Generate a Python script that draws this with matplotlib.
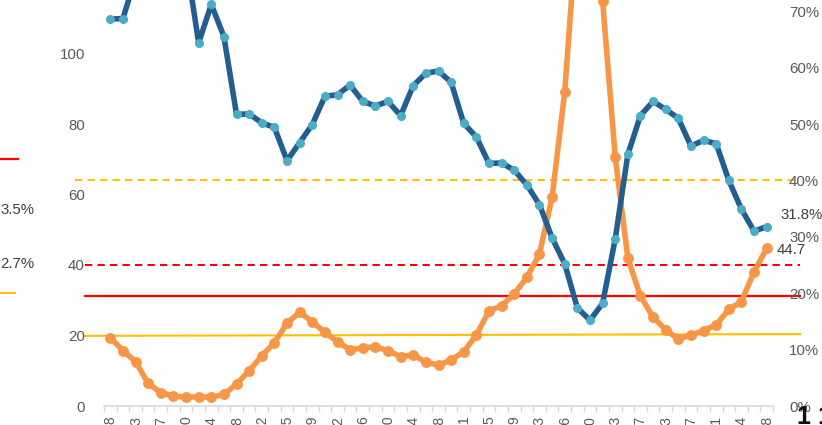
import numpy as np
import matplotlib
matplotlib.use("Agg")
import matplotlib.pyplot as plt
from matplotlib.lines import Line2D
from matplotlib.ticker import FuncFormatter

plt.rcParams['font.family'] = ['Liberation Sans', 'DejaVu Sans']

# ---------------- data ----------------
x_labels = ["10/18", "10/23", "10/27", "10/30", "11/4", "11/8", "11/12", "11/15",
            "11/19", "11/22", "11/26", "11/30", "12/4", "12/8", "12/11", "12/15",
            "12/19", "12/23", "12/26", "12/30", "1/3", "1/7", "1/13", "1/17",
            "1/21", "1/24", "1/28"]

# orange series (left axis)
orange = [19.4, 15.7, 12.6, 6.4, 3.8, 2.8, 2.5, 2.6, 2.5, 3.3, 6.2, 10.0, 14.2,
          18.0, 23.5, 26.6, 23.9, 20.9, 18.2, 15.9, 16.5, 16.8, 15.7, 14.0, 14.5,
          12.4, 11.6, 13.0, 15.4, 20.1, 27.0, 28.4, 31.8, 36.5, 43.1, 59.2, 89.1,
          138.0, 150.0, 115.0, 70.7, 41.9, 31.2, 25.2, 21.6, 19.0, 20.1, 21.4,
          23.0, 27.4, 29.6, 38.1, 44.7]

# blue series (right axis, percent)
blue = [68.6, 68.7, 76.0, 80.0, 82.0, 83.0, 79.0, 64.4, 71.2, 65.5, 51.7, 51.8,
        50.2, 49.4, 43.5, 46.7, 49.9, 54.9, 55.2, 56.9, 54.0, 53.2, 54.0, 51.5,
        56.8, 59.0, 59.4, 57.4, 50.1, 47.7, 43.0, 43.1, 41.8, 39.2, 35.7, 29.8,
        25.2, 17.4, 15.2, 18.2, 29.6, 44.6, 51.5, 54.0, 52.6, 51.0, 46.1, 47.1,
        46.5, 40.0, 34.9, 31.0, 31.8]

left_ticks = [0, 20, 40, 60, 80, 100, 120]
right_ticks = [0, 10, 20, 30, 40, 50, 60, 70]

# reference lines
ref_yellow_dashed_pct = 40.0   # right axis
ref_red_dashed = 40.0          # left axis
ref_red_solid = 31.2           # left axis
ref_yellow_solid = (19.9, 20.4)  # left axis (start, end)

# ---------------- figure ----------------
W, H = 822, 425
fig = plt.figure(figsize=(W / 100, H / 100), dpi=100)


def fx(px):
    return px / W


def fy(py):
    return 1 - py / H


ax = fig.add_axes([104 / W, (H - 406) / H, 669 / W, 423 / H])
ax2 = ax.twinx()

x = np.arange(len(orange))
ax.set_xlim(-0.5, len(x) - 0.5)
ax.set_ylim(0, 120)
ax2.set_ylim(0, 75)

BLUE = "#245D8F"
BLUE_MK = "#4BACC6"
ORANGE = "#F79646"
YELLOW = "#FFC000"
RED = "#FF0000"
GRAY_TXT = "#595959"

# reference lines (extend slightly beyond plot area)
xl0, xl1 = -2.0, 54.65
ax.plot([-2.8, 54.25], [ref_yellow_dashed_pct * 120 / 75] * 2, color=YELLOW, lw=1.5,
        linestyle=(0, (3.5, 2.5)), clip_on=False, zorder=1)
ax.plot([xl0, xl1], [ref_red_dashed] * 2, color=RED, lw=1.5,
        linestyle=(0, (3.5, 2.5)), clip_on=False, zorder=1)
ax.plot([xl0, xl1], [ref_red_solid] * 2, color=RED, lw=1.6, clip_on=False, zorder=1)
ax.plot([xl0, xl1], list(ref_yellow_solid), color=YELLOW, lw=1.5, clip_on=False, zorder=1)

# series
ax.plot(x, orange, color=ORANGE, lw=4.0, marker='o', ms=6.8, mfc=ORANGE, mec=ORANGE,
        solid_joinstyle='round', zorder=3)
ax2.plot(x, blue, color=BLUE, lw=4.0, marker='o', ms=5.5, mfc=BLUE_MK, mec=BLUE_MK,
         solid_joinstyle='round', zorder=3)

# data labels
ax2.annotate(f"{blue[-1]:.1f}%", (x[-1], blue[-1]), xytext=(10, 8.6),
             textcoords='offset points', ha='left', va='center', fontsize=10.8,
             color="#404040", annotation_clip=False)
ax.annotate(f"{orange[-1]:.1f}", (x[-1], orange[-1]), xytext=(7.2, -1.4),
            textcoords='offset points', ha='left', va='center', fontsize=10.8,
            color="#404040", annotation_clip=False)

# axes styling
for s in ax.spines.values():
    s.set_visible(False)
for s in ax2.spines.values():
    s.set_visible(False)
ax.spines['bottom'].set_visible(True)
ax.spines['bottom'].set_color("#D9D9D9")
ax.spines['bottom'].set_linewidth(1.2)

ax.set_yticks(left_ticks)
ax.tick_params(axis='y', length=0, pad=13.7, labelsize=10.8, labelcolor=GRAY_TXT)
ax2.set_yticks(right_ticks)
ax2.yaxis.set_major_formatter(FuncFormatter(lambda v, p: f"{v:.0f}%"))
ax2.tick_params(axis='y', length=0, pad=11.5, labelsize=10.8, labelcolor=GRAY_TXT)

ax.set_xticks(x[::2])
ax.set_xticklabels(x_labels, rotation=90, fontsize=10, color=GRAY_TXT)
ax.set_xticks(np.arange(-0.5, len(x)), minor=True)
ax.tick_params(axis='x', which='major', length=0, pad=7.0)
ax.tick_params(axis='x', which='minor', length=4, color="#D9D9D9", width=1)

# fragments of neighbouring content at the left edge
fig.add_artist(Line2D([fx(0), fx(18)], [fy(159)] * 2, color=RED, lw=1.6))
fig.text(fx(0), fy(210), "3.5%", ha='left', va='center', fontsize=10.8, color="#404040")
fig.text(fx(0), fy(264), "2.7%", ha='left', va='center', fontsize=10.8, color="#404040")
fig.add_artist(Line2D([fx(0), fx(15)], [fy(293)] * 2, color=YELLOW, lw=1.5))

# fragment at bottom right
fig.text(fx(797), fy(405), "1 1", ha='left', va='top', fontsize=18,
         fontweight='bold', color="#111111")

fig.savefig("out.png", dpi=100)
